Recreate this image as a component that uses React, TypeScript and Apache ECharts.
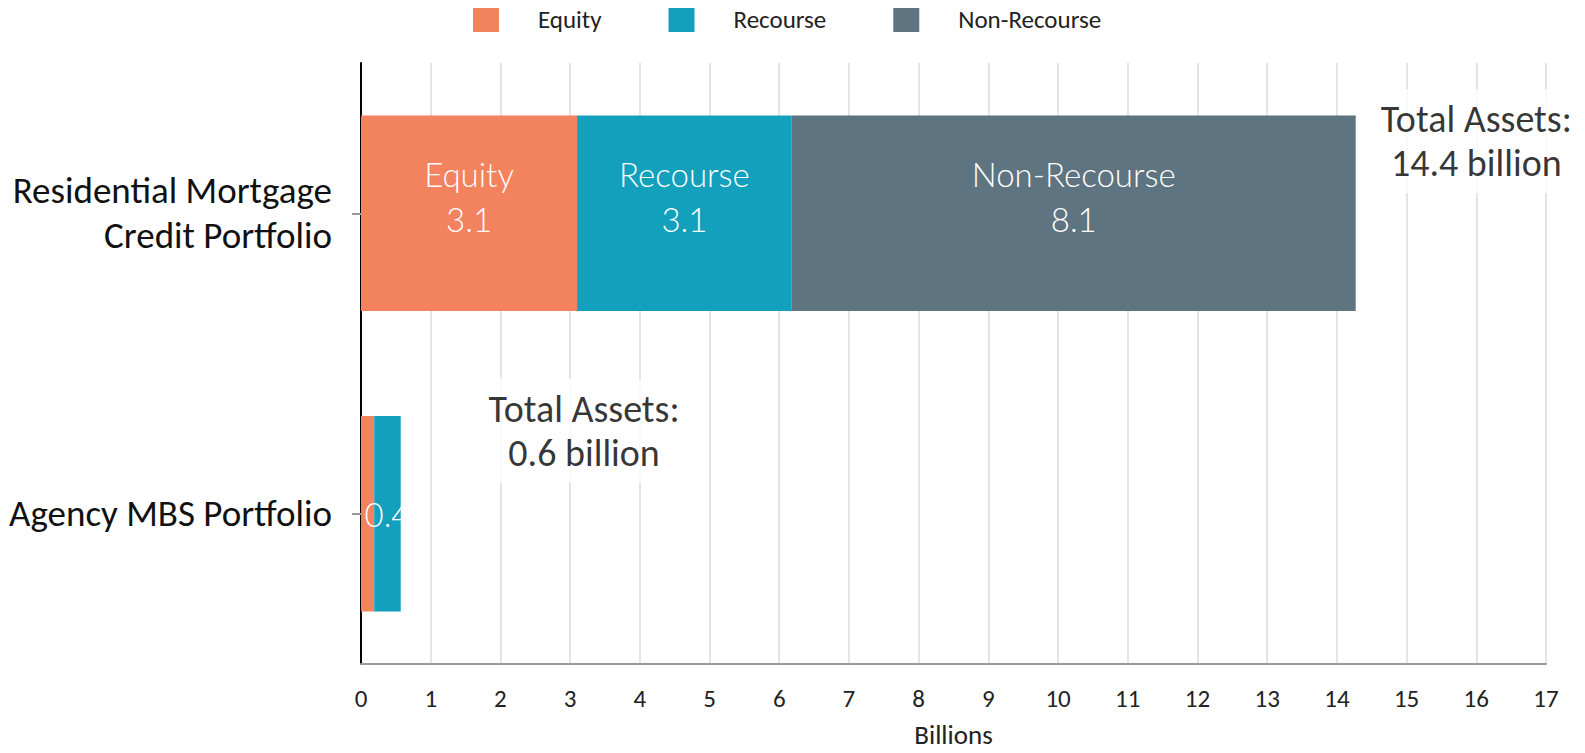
import React, { useEffect, useRef } from "react";
import * as echarts from "echarts";

const categories = ["Agency MBS Portfolio", "Residential Mortgage\nCredit Portfolio"];
const seriesNames = ["Equity", "Recourse", "Non-Recourse"];
const equity = [0.19, 3.1];
const recourse = [0.38, 3.08];
const nonRecourse = [0, 8.09];
const colors = ["#F3825E", "#12A0BC", "#5E7480"];
const xTicks = { min: 0, max: 17, interval: 1 };
const annotations = [
  { x: 3.2, cat: 0, text: "Total Assets:\n0.6 billion", dy: -83 },
  { x: 16, cat: 1, text: "Total Assets:\n14.4 billion", dy: -72 },
];

const FONT = "Carlito, Lato, 'Open Sans', sans-serif";
const LIGHT = "Lato, Carlito, sans-serif";

export default function App() {
  const ref = useRef<HTMLDivElement>(null);
  useEffect(() => {
    if (!ref.current) return;
    const chart = echarts.init(ref.current, null, { renderer: "svg" });
    const values = [equity, recourse, nonRecourse];
    const barSeries = seriesNames.map((name, si) => ({
      name,
      type: "bar",
      stack: "total",
      barWidth: "65%",
      itemStyle: { color: colors[si] },
      data: values[si].map((v, i) => ({
        value: v,
        label:
          i === 1
            ? { offset: [0, -17], formatter: (p: any) => `${p.seriesName}\n${Number(p.value).toFixed(1)}` }
            : { formatter: (p: any) => (p.value >= 0.3 ? Number(p.value).toFixed(1) : "") },
      })),
      label: {
        show: true,
        position: "inside",
        color: "#fff",
        fontFamily: LIGHT,
        fontWeight: 300,
        fontSize: 33,
        lineHeight: 45,
      },
    }));
    chart.setOption({
      animation: false,
      legend: {
        data: seriesNames,
        top: 1,
        left: 468,
        itemWidth: 26,
        itemHeight: 26,
        itemGap: 67,
        icon: "rect",
        textStyle: { fontFamily: FONT, fontSize: 25, color: "#222", padding: [0, 0, 0, 34] },
      },
      grid: { left: 361, right: 39, top: 63, bottom: 89, outerBoundsMode: "none", containLabel: false },
      xAxis: {
        type: "value",
        min: xTicks.min,
        max: xTicks.max,
        interval: xTicks.interval,
        name: "Billions",
        nameLocation: "middle",
        nameGap: 57,
        nameTextStyle: { fontFamily: FONT, fontSize: 27, lineHeight: 27, color: "#222" },
        axisLine: { show: true, lineStyle: { color: "#9a9a9a", width: 2 } },
        axisTick: { show: false },
        axisLabel: { fontFamily: FONT, fontSize: 25, color: "#222", margin: 22 },
        splitLine: { show: true, lineStyle: { color: "#e4e4e4", width: 2 } },
      },
      yAxis: {
        type: "category",
        data: categories,
        axisLine: { show: true, lineStyle: { color: "#000", width: 2 } },
        axisTick: { show: true, alignWithLabel: true, length: 9, lineStyle: { color: "#999", width: 2 } },
        axisLabel: {
          fontFamily: FONT,
          fontSize: 37,
          color: "#111",
          lineHeight: 45,
          margin: 29,
          align: "right",
        },
      },
      series: [
        ...barSeries,
        {
          type: "scatter",
          symbolSize: 0,
          silent: true,
          z: 10,
          data: annotations.map((a) => ({
            value: [a.x, a.cat],
            label: {
              show: true,
              position: "inside",
              offset: [0, a.dy],
              formatter: a.text,
              fontFamily: FONT,
              fontSize: 38,
              lineHeight: 44,
              color: "#000",
              align: "center",
              backgroundColor: "#fff",
              padding: [8, 6],
            },
          })),
        },
      ],
    });
    return () => chart.dispose();
  }, []);
  return <div ref={ref} style={{ width: 1585, height: 753, marginLeft: -8, marginTop: -8 }} />;
}
